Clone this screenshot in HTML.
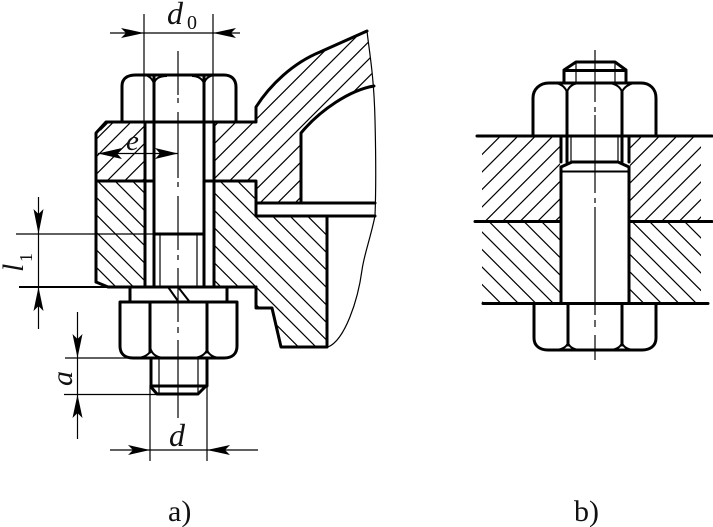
<!DOCTYPE html>
<html>
<head>
<meta charset="utf-8">
<style>
html,body{margin:0;padding:0;background:#fff;width:713px;height:527px;overflow:hidden}
svg{display:block}
text{font-family:"Liberation Serif",serif;fill:#111}
.k{fill:none;stroke:#000;stroke-width:3;stroke-linejoin:round;stroke-linecap:round}
.m{fill:none;stroke:#000;stroke-width:2}
.t{fill:none;stroke:#000;stroke-width:1.2}
.a{fill:#000;stroke:none}
</style>
</head>
<body>
<svg width="713" height="527" viewBox="0 0 713 527" xmlns="http://www.w3.org/2000/svg">
<defs>
<pattern id="hu" patternUnits="userSpaceOnUse" width="17.5" height="17.5" patternTransform="translate(8 0)">
<path d="M-2 19.5L19.5 -2M-2 2L2 -2M15.5 19.5L19.5 15.5" stroke="#000" stroke-width="1.2" fill="none"/>
</pattern>
<pattern id="hd" patternUnits="userSpaceOnUse" width="17.5" height="17.5" patternTransform="translate(4 0)">
<path d="M-2 -2L19.5 19.5M15.5 -2L19.5 2M-2 15.5L2 19.5" stroke="#000" stroke-width="1.2" fill="none"/>
</pattern>
<pattern id="bu" patternUnits="userSpaceOnUse" width="17.5" height="17.5" patternTransform="translate(6.5 0)">
<path d="M-2 19.5L19.5 -2M-2 2L2 -2M15.5 19.5L19.5 15.5" stroke="#000" stroke-width="1.2" fill="none"/>
</pattern>
<pattern id="bd" patternUnits="userSpaceOnUse" width="17.5" height="17.5" patternTransform="translate(5 0)">
<path d="M-2 -2L19.5 19.5M15.5 -2L19.5 2M-2 15.5L2 19.5" stroke="#000" stroke-width="1.2" fill="none"/>
</pattern>
<pattern id="bu2" patternUnits="userSpaceOnUse" width="17.5" height="17.5" patternTransform="translate(8 0)">
<path d="M-2 19.5L19.5 -2M-2 2L2 -2M15.5 19.5L19.5 15.5" stroke="#000" stroke-width="1.2" fill="none"/>
</pattern>
<pattern id="bd2" patternUnits="userSpaceOnUse" width="17.5" height="17.5" patternTransform="translate(8 0)">
<path d="M-2 -2L19.5 19.5M15.5 -2L19.5 2M-2 15.5L2 19.5" stroke="#000" stroke-width="1.2" fill="none"/>
</pattern>
</defs>

<!-- hatching a -->
<path fill="url(#hu)" d="M96 133L106 122H144V181H96Z"/>
<path fill="url(#hu)" d="M214 122H256V107C270 85 293 63 320 52L367 31L372 70L374 86C350 90 320 110 301 133V203H256V181H214Z"/>
<path fill="url(#hd)" d="M96 181H144V287H108L96 282Z"/>
<path fill="url(#hd)" d="M214 181H256V216H327V347H281L272 308H256V287H214Z"/>

<!-- hatching b -->
<path fill="url(#bu)" d="M482 136H560V221H482Z"/>
<path fill="url(#bu2)" d="M630 136H701V221H630Z"/>
<path fill="url(#bd)" d="M482 222H560V303H482Z"/>
<path fill="url(#bd2)" d="M630 222H701V303H630Z"/>

<!-- figure a: outlines -->
<path class="k" d="M96 282V133L106 122H256V107C270 85 293 63 320 52L367 31"/>
<path class="k" d="M374 86C350 90 320 110 301 133V203"/>
<path class="k" d="M96 181H153M204 181H256V216H375M256 203H375M327 216V347H281L272 308H256V287"/>
<path class="k" d="M96 282L108 287H256"/>
<path class="m" d="M100 130L107 123"/>
<path class="k" d="M145 123V287M214 123V287"/>
<path class="k" d="M154 75V287M204 75V287"/>
<path class="k" d="M154 234H204"/>
<path class="t" d="M160 234V287M197 234V287"/>
<path class="t" d="M367 31C369 50 374 75 375 120C376 160 376 190 375 216C370 240 364 255 362 270C358 300 345 340 328 347"/>

<!-- head a -->
<path class="k" d="M122 122V86C122 78 128 75 136 75H224C231 75 236 79 236 87V122"/>
<path class="m" d="M145 75C150 76 153 80 154 84C155 78 160 76 167 76M192 76C198 76 203 79 204 84C205 79 209 76 214 75"/>

<!-- washer + nut a -->
<path class="k" d="M130 287V302M227 287V302"/>
<path class="k" d="M120 302H237V346C237 354 232 358 224 358H133C125 358 120 354 120 346Z"/>
<path class="k" d="M150 302V352M207 302V352"/>
<path class="m" d="M136 358C143 358 149 355 151 350C153 355 158 358 166 358M192 358C199 358 205 355 207 350C209 355 214 358 222 358"/>
<path class="m" d="M168 287L178 301M178 287L189 301"/>
<path class="k" d="M151 358V387L157 394H198L207 385V358"/>
<path class="k" d="M151 386H207"/>
<path class="t" d="M159 358V394M198 358V394"/>

<!-- centerlines & dims a -->
<path class="t" d="M178 51V95M178 98V103M178 112V178M178 182V187M178 196V250M178 255V260M178 268V322M178 327V333M178 340V418"/>
<path class="t" d="M144 14V123M213 14V123"/>
<path class="t" d="M110 33H240"/>
<path class="a" d="M144 33L121 28L126 33L121 38Z"/>
<path class="a" d="M213 33L236 28L231 33L236 38Z"/>
<path class="t" d="M98 153.5H178"/>
<path class="a" d="M98 153.5L122 148L117 153.5L122 159Z"/>
<path class="a" d="M178 153.5L155 148L160 153.5L155 159Z"/>
<path class="t" d="M38.5 197V329M16 234H154"/>
<path class="m" d="M19 287H108"/>
<path class="a" d="M38.5 234L33.5 209L38.5 214L43.5 209Z"/>
<path class="a" d="M38.5 287L33.5 311L38.5 306L43.5 311Z"/>
<path class="t" d="M77.5 312V439M65 358H130M64 394.5H158"/>
<path class="a" d="M77.5 358L72.5 334L77.5 339L82.5 334Z"/>
<path class="a" d="M77.5 394.5L72.5 418L77.5 413L82.5 418Z"/>
<path class="t" d="M110 450H258M150 385V461M207 385V461"/>
<path class="a" d="M150 450L128 445L133 450L128 455Z"/>
<path class="a" d="M207 450L230 445L225 450L230 455Z"/>

<!-- figure b -->
<path class="k" d="M477 136H712M483 303.5H708"/>
<path class="k" d="M475 221.5H560M630 221.5H712"/>
<path class="k" d="M561 167V303M629 167V303"/>
<path class="m" d="M561 171.5H629"/>
<path class="k" d="M561 167L572 162H618L629 167"/>
<path class="k" d="M567 136V162M622 136V162"/>
<path class="k" d="M561 136V162M629 136V162"/>
<path class="t" d="M571 136V162M618 136V162"/>
<!-- b head -->
<path class="k" d="M533 136V98C533 89 540 83 549 83H641C650 83 656 89 656 98V136"/>
<path class="k" d="M567 136V92M622 136V92"/>
<path class="m" d="M556 83C561 84 565 87 567 92C569 86 574 83 581 83M607 83C614 83 620 86 622 92C624 87 629 84 634 83"/>
<!-- b bolt top -->
<path class="k" d="M564 82V70L576 62H615L626 70V82"/>
<path class="k" d="M564 70.5H626"/>
<path class="t" d="M576 62V82M615 62V82"/>
<!-- b bottom nut -->
<path class="k" d="M534 304V338C534 346 540 350 548 350H642C650 350 656 346 656 338V304"/>
<path class="k" d="M568 304V345M622 304V345"/>
<path class="m" d="M553 350C560 350 566 348 568 343C570 348 575 350 582 350M608 350C615 350 620 348 622 343C624 348 629 350 636 350"/>
<path class="t" d="M595 50V102M595 107V112M595 115V193M595 198V203M595 207V315M595 320V327M595 335V360"/>

<!-- labels -->
<text x="167" y="24" font-size="32" font-style="italic">d</text>
<text x="187" y="29" font-size="20">0</text>
<text x="126" y="150" font-size="29" font-style="italic">e</text>
<text x="169" y="446" font-size="32" font-style="italic">d</text>
<text transform="translate(72 386) rotate(-90)" font-size="30" font-style="italic">a</text>
<text transform="translate(23 272) rotate(-90)" font-size="30" font-style="italic">l</text>
<text transform="translate(32 262) rotate(-90)" font-size="18">1</text>
<text x="168" y="521" font-size="30">a)</text>
<text x="574" y="521" font-size="30">b)</text>
</svg>
</body>
</html>
